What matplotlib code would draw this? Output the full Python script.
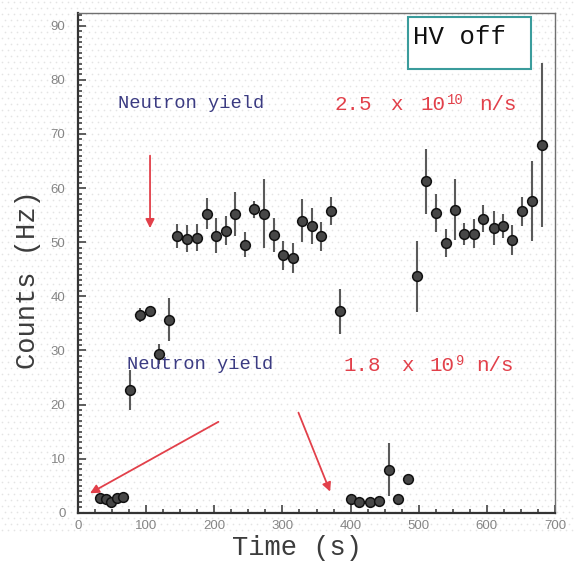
import numpy as np
import matplotlib
matplotlib.use("Agg")
import matplotlib.pyplot as plt
from matplotlib.ticker import MultipleLocator
from matplotlib.patches import Rectangle

# measured count rate vs. time
time_s = [33, 41, 48, 57, 66, 76, 91, 106, 119, 134,
          146, 160, 175, 189, 202, 217, 231, 245, 259, 273, 287, 301, 315,
          329, 343, 356, 371, 385,
          400, 413, 428, 442, 456, 470, 484,
          498, 511, 525, 540, 553, 567, 581, 595, 610, 623, 637, 651, 666, 681]
counts_hz = [2.7, 2.6, 2.0, 2.7, 2.9, 22.7, 36.5, 37.2, 29.3, 35.7,
             51.1, 50.6, 50.8, 55.3, 51.2, 52.1, 55.2, 49.5, 56.1, 55.3, 51.3, 47.6, 47.1,
             54.0, 53.0, 51.1, 55.7, 37.2,
             2.5, 2.0, 1.9, 2.2, 7.9, 2.5, 6.2,
             43.7, 61.3, 55.4, 49.8, 56.0, 51.5, 51.6, 54.3, 52.6, 53.0, 50.4, 55.7, 57.7, 68.0]
counts_err = [0.5, 0.5, 0.5, 0.5, 0.5, 3.7, 1.3, 0.8, 1.8, 4.0,
              2.2, 2.5, 2.5, 2.9, 3.2, 2.7, 4.0, 2.3, 1.6, 6.4, 3.2, 2.7, 2.7,
              4.0, 3.3, 2.7, 2.6, 4.2,
              0.6, 0.5, 0.5, 0.6, 4.9, 0.6, 1.0,
              6.6, 6.0, 3.6, 2.6, 5.6, 2.1, 2.7, 2.5, 3.2, 2.3, 2.7, 2.7, 7.4, 15.1]

mono = "Liberation Mono"
navy = "#3b3b82"
red = "#e2404a"

fig = plt.figure(figsize=(5.74, 5.63), dpi=100)

# faint dotted paper background
gx, gy = np.meshgrid(np.arange(2, 574, 6), np.arange(2, 532, 6))
gx = gx + (np.arange(gx.shape[0])[:, None] % 2) * 3
fig.add_artist(plt.Line2D(gx.ravel() / 574, 1 - gy.ravel() / 563, ls="none", marker="o",
                          ms=1.2, mec="none", mfc="#e4e4e4", transform=fig.transFigure,
                          zorder=0))

ax = fig.add_axes([0.1359, 0.0893, 0.831, 0.887])
ax.set_facecolor("none")

ax.errorbar(time_s, counts_hz, yerr=counts_err, fmt="o", ms=7, mfc="#474747", mec="#111111",
            mew=1.1, ecolor="#5a5a5a", elinewidth=1.5, capsize=0, zorder=3)

ax.set_xlim(0, 700)
ax.set_ylim(0, 92.3)
ax.xaxis.set_major_locator(MultipleLocator(100))
ax.xaxis.set_minor_locator(MultipleLocator(25))
ax.yaxis.set_major_locator(MultipleLocator(10))
ax.yaxis.set_minor_locator(MultipleLocator(1))
ax.tick_params(which="both", direction="in", color="#333333", width=1.1)
ax.tick_params(which="major", length=6)
ax.tick_params(which="minor", length=3)
ax.tick_params(axis="x", pad=5)
ax.tick_params(axis="y", pad=9)
for lab in ax.get_xticklabels() + ax.get_yticklabels():
    lab.set_fontfamily("Liberation Sans")
    lab.set_fontsize(9.5)
    lab.set_color("#858585")

for side in ("left", "bottom"):
    ax.spines[side].set_color("#333333")
    ax.spines[side].set_linewidth(1.6)
for side in ("top", "right"):
    ax.spines[side].set_color("#707070")
    ax.spines[side].set_linewidth(1.0)

fig.text(297 / 574, 1 - 548 / 563, "Time (s)", family=mono, fontsize=19.5, color="#3c3c3c",
         ha="center", va="center")
fig.text(28 / 574, 1 - 280 / 563, "Counts (Hz)", family=mono, fontsize=19.5, color="#3c3c3c",
         ha="center", va="center", rotation=90)

# yield annotations
ax.text(58.7, 75.6, "Neutron yield", family=mono, fontsize=13.5, color=navy, va="center")
ax.text(72, 27.4, "Neutron yield", family=mono, fontsize=13.5, color=navy, va="center")

red_kw = dict(family=mono, fontsize=15, color=red, va="center")
sup_kw = dict(family=mono, fontsize=10, color=red, va="center")
ax.text(376, 75.5, "2.5", **red_kw)
ax.text(458, 75.5, "x", **red_kw)
ax.text(503, 75.5, "10", **red_kw)
ax.text(541, 76.2, "10", **sup_kw)
ax.text(589, 75.5, "n/s", **red_kw)

ax.text(390, 27.3, "1.8", **red_kw)
ax.text(474, 27.3, "x", **red_kw)
ax.text(516, 27.3, "10", **red_kw)
ax.text(554, 28.0, "9", **sup_kw)
ax.text(585, 27.3, "n/s", **red_kw)

arrow = dict(arrowstyle="-|>", color=red, lw=1.3, mutation_scale=13, shrinkA=0, shrinkB=0)
ax.annotate("", xy=(105.7, 52.6), xytext=(105.7, 66.0), arrowprops=arrow)
ax.annotate("", xy=(17.6, 3.6), xytext=(206, 16.8), arrowprops=arrow)
ax.annotate("", xy=(370, 3.9), xytext=(323.5, 18.5), arrowprops=arrow)

# HV status box
ax.add_patch(Rectangle((485, 82.1), 180, 9.6, facecolor="white", edgecolor="#3a9c9c",
                       lw=1.5, zorder=4))
ax.text(491.5, 87.9, "HV off", family=mono, fontsize=18.5, color="#111111",
        va="center", zorder=5)

fig.savefig("out.png", dpi=100)
